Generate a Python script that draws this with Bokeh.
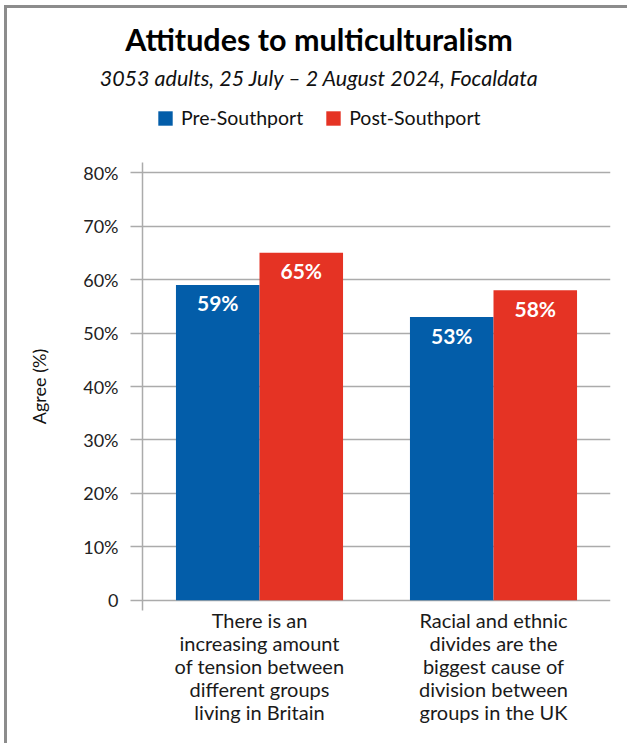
from bokeh.plotting import figure
from bokeh.layouts import column
from bokeh.models import (FactorRange, Range1d, FixedTicker, Label, Legend,
                          LegendItem, ColumnDataSource)
from bokeh.transform import dodge
from bokeh.embed import file_html
from bokeh.resources import INLINE
from bokeh.core.properties import value

# ---- data ----
categories = [
    "There is an\nincreasing amount\nof tension between\ndifferent groups\nliving in Britain",
    "Racial and ethnic\ndivides are the\nbiggest cause of\ndivision between\ngroups in the UK",
]
series = ["Pre-Southport", "Post-Southport"]
pre_values = [59, 53]
post_values = [65, 58]
y_ticks = [0, 10, 20, 30, 40, 50, 60, 70, 80]
y_tick_labels = ["0", "10%", "20%", "30%", "40%", "50%", "60%", "70%", "80%"]

title_text = "Attitudes to multiculturalism"
subtitle_text = "3053 adults, 25 July \u2013 2 August 2024, Focaldata"
y_label = "Agree (%)"

BLUE = "#035DA9"
RED = "#E53324"
GRID = "#ababab"
FONT = "Lato"
W = 620
HEAD_H = 144

# ---------------- header (title, subtitle, legend) ----------------
head = figure(width=W, height=HEAD_H, x_range=Range1d(0, W),
              y_range=Range1d(HEAD_H, 0),
              x_axis_type=None, y_axis_type=None, output_backend="svg",
              toolbar_location=None, title=None, frame_align=False,
              min_border_left=0, min_border_right=0,
              min_border_top=0, min_border_bottom=0)
head.outline_line_color = None
head.grid.grid_line_color = None
head.border_fill_color = "white"
head.background_fill_color = "white"

# y in screen px measured up from the header's bottom edge
head.add_layout(Label(x=W / 2 + 1.5, y=113.5, y_units="screen", text=title_text,
                      text_align="center", text_baseline="alphabetic",
                      text_font=FONT, text_font_style="bold",
                      text_font_size="30.5px", text_color="#000000"))
head.add_layout(Label(x=W / 2 + 2, y=75, y_units="screen", text=subtitle_text,
                      text_align="center", text_baseline="alphabetic",
                      text_font=FONT, text_font_style="italic",
                      text_font_size="21.5px", text_color="#111111"))

# zero-size proxy glyphs that only supply the legend swatches
sw_pre = head.vbar(x=[0], top=[0], width=0, color=BLUE, line_color=None)
sw_post = head.vbar(x=[0], top=[0], width=0, color=RED, line_color=None)
legend = Legend(items=[LegendItem(label=series[0], renderers=[sw_pre]),
                       LegendItem(label=series[1], renderers=[sw_post])],
                orientation="horizontal", location=(149, 23),
                glyph_width=18, glyph_height=18, label_height=18,
                label_standoff=7, spacing=21,
                padding=0, margin=0, border_line_color=None,
                background_fill_alpha=0,
                label_text_font=FONT, label_text_font_size="19.5px",
                label_text_color="#111111")
head.add_layout(legend, "center")

# ---------------- main chart ----------------
source = ColumnDataSource(dict(
    cat=categories,
    pre=pre_values,
    post=post_values,
    pre_lbl=[f"{v}%" for v in pre_values],
    post_lbl=[f"{v}%" for v in post_values],
))

p = figure(
    x_range=FactorRange(*categories),
    y_range=Range1d(-1.9, 81.9),
    width=W, height=735 - HEAD_H, title=None,
    output_backend="svg", toolbar_location=None, frame_align=False,
    min_border_left=135, min_border_right=17,
    min_border_top=10, min_border_bottom=133,
)
p.outline_line_color = None
p.background_fill_color = "white"
p.border_fill_color = "white"

bw = 0.357
p.vbar(x=dodge("cat", -bw / 2, range=p.x_range), top="pre", width=bw,
       source=source, color=BLUE, line_color=None)
p.vbar(x=dodge("cat", bw / 2, range=p.x_range), top="post", width=bw,
       source=source, color=RED, line_color=None)

for col, top, off in (("pre_lbl", "pre", -bw / 2), ("post_lbl", "post", bw / 2)):
    p.text(x=dodge("cat", off, range=p.x_range), y=top, text=col, source=source,
           text_align="center", text_baseline="middle", y_offset=18,
           text_color="white", text_font=value(FONT), text_font_style="bold",
           text_font_size="21px")

p.xgrid.grid_line_color = None
p.ygrid.grid_line_color = GRID
p.ygrid.grid_line_width = 1.5
p.ygrid.ticker = FixedTicker(ticks=y_ticks)

ya = p.yaxis[0]
ya.ticker = FixedTicker(ticks=y_ticks)
ya.major_label_overrides = {t: l for t, l in zip(y_ticks, y_tick_labels)}
ya.axis_line_color = GRID
ya.axis_line_width = 1.5
ya.major_tick_line_color = GRID
ya.major_tick_line_width = 1.5
ya.major_tick_out = 12
ya.major_tick_in = 0
ya.minor_tick_line_color = None
ya.major_label_standoff = 12
ya.major_label_text_font = FONT
ya.major_label_text_font_size = "18px"
ya.major_label_text_color = "#222222"
ya.axis_label = y_label
ya.axis_label_text_font = FONT
ya.axis_label_text_font_size = "18px"
ya.axis_label_text_font_style = "normal"
ya.axis_label_text_color = "#111111"
ya.axis_label_standoff = 30

xa = p.xaxis[0]
xa.axis_line_color = None
xa.major_tick_line_color = None
xa.major_tick_out = 0
xa.major_label_standoff = -3
xa.major_label_text_font = FONT
xa.major_label_text_font_size = "20px"
xa.major_label_text_line_height = 0.96
xa.major_label_text_color = "#1a1a1a"

layout = column(head, p, spacing=0,
                styles={"margin-left": "4px", "margin-top": "5px",
                        "border-left": "3px solid #8c8c8c",
                        "border-top": "3px solid #8c8c8c"})

open("out.html", "w").write(file_html(layout, INLINE))
